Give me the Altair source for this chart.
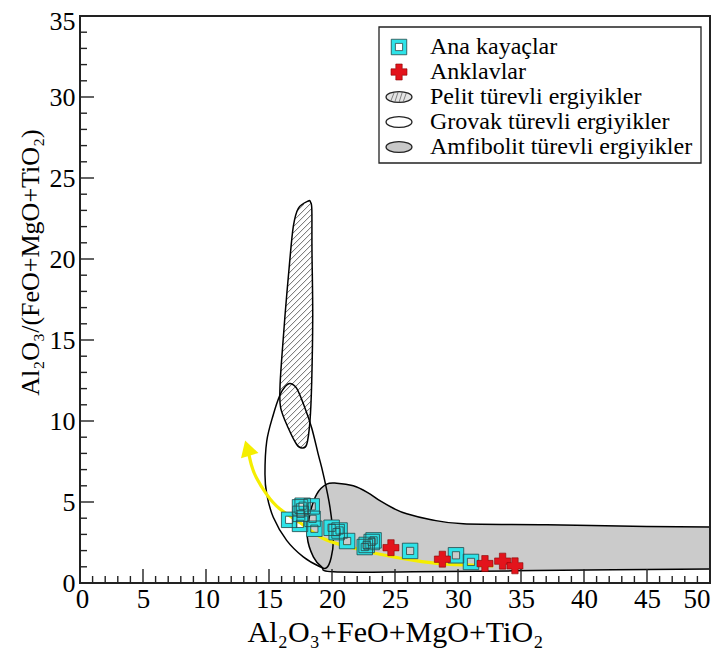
import altair as alt
import pandas as pd

# ---------------- data ----------------
ana_x = [16.6, 17.46, 17.67, 18.39, 17.51, 17.46, 18.46, 18.6, 19.97, 20.37, 20.6, 21.2,
         22.6, 22.75, 23.15, 23.3, 26.2, 29.84, 31.03]
ana_y = [3.90, 4.67, 4.77, 4.73, 4.27, 3.65, 3.96, 3.35, 3.41, 3.14, 3.24, 2.59,
         2.22, 2.35, 2.53, 2.63, 1.98, 1.71, 1.30]

ank_x = [24.68, 28.76, 32.14, 33.54, 34.52]
ank_y = [2.18, 1.47, 1.20, 1.35, 1.06]

pelit_x = [18.12, 17.33, 16.93, 16.61, 16.27, 16.01, 15.87, 15.93, 16.53, 17.20, 17.60,
           17.99, 18.25, 18.39, 18.47, 18.41, 18.40, 18.30]
pelit_y = [23.58, 23.13, 22.01, 19.57, 16.51, 13.86, 12.02, 10.80, 9.57, 8.55, 8.34,
           8.55, 9.98, 12.42, 16.51, 20.58, 23.03, 23.50]

grovak_x = [16.67, 17.20, 17.86, 18.39, 18.91, 19.31, 19.84, 20.10, 19.92, 19.58, 19.05,
            17.72, 16.40, 15.34, 14.82, 14.68, 14.82, 15.34, 15.87, 16.27]
grovak_y = [12.32, 12.01, 10.79, 9.57, 7.94, 6.71, 4.67, 2.63, 1.53, 0.95, 1.00,
            1.61, 2.63, 4.06, 5.49, 6.71, 8.75, 10.39, 11.61, 12.12]

amph_x = [18.04, 18.25, 18.79, 19.58, 20.37, 21.69, 22.8, 23.8, 24.9, 25.93, 27.78, 30.42,
          37.04, 44.98, 50.0, 51.5, 51.5, 50.0, 42.3, 34.4, 26.45, 20.1, 19.18, 18.52]
amph_y = [2.83, 4.27, 5.49, 6.10, 6.16, 6.0, 5.6, 5.08, 4.6, 4.27, 3.92, 3.65,
          3.59, 3.49, 3.45, 3.44, 0.87, 0.86, 0.82, 0.75, 0.69, 0.69, 1.00, 1.61]

trend_x = [13.3, 13.6, 14.0, 14.8, 15.87, 17.5, 19.3, 21.5, 23.5, 26.4, 29.1, 32.8]
trend_y = [8.3, 7.3, 6.5, 5.49, 4.57, 3.7, 2.75, 2.2, 1.82, 1.41, 1.16, 1.06]
arrow_x = [13.3]
arrow_y = [8.3]

x_major = [0, 5, 10, 15, 20, 25, 30, 35, 40, 45, 50]
y_major = [0, 5, 10, 15, 20, 25, 30, 35]
x_minor = [v for v in range(0, 51) if v % 5]
y_minor = [v for v in range(0, 36) if v % 5]

legend_labels = ["Ana kayaçlar", "Anklavlar", "Pelit türevli ergiyikler",
                 "Grovak türevli ergiyikler", "Amfibolit türevli ergiyikler"]

x_title = "Al₂O₃+FeO+MgO+TiO₂"
y_title = "Al₂O₃/(FeO+MgO+TiO₂)"

# ---------------- layout ----------------
PAD_T = 8
W, H = 630, 567
FONT = "Liberation Serif"
SX = W / 50.0
SY = H / 35.0

xs = alt.Scale(domain=[0, 50], nice=False, zero=False)
ys = alt.Scale(domain=[0, 35], nice=False, zero=False)

AX = alt.Axis(
    values=x_major, format="d", ticks=False, domain=False, grid=False,
    labelFont=FONT, labelFontSize=27, labelColor="black", labelPadding=3,
    labelFlush=False, labelOverlap=False,
    labelAlign={"condition": {"test": "datum.value == 50", "value": "right"}, "value": "center"},
    labelOffset={"condition": {"test": "datum.value == 0", "value": 2}, "value": 0},
    title=x_title, titleFont=FONT, titleFontSize=30, titleFontWeight="normal",
    titleColor="black", titlePadding=5)
AY = alt.Axis(
    values=y_major, format="d", ticks=False, domain=False, grid=False,
    labelFont=FONT, labelFontSize=26, labelColor="black", labelPadding=5,
    labelFlush=False, labelOverlap=False,
    labelOffset={"condition": {"test": "datum.value == 35", "value": 5}, "value": 0},
    title=y_title, titleFont=FONT, titleFontSize=26, titleFontWeight="normal",
    titleColor="black", titleX=-37, titleY=246)


def poly_df(xv, yv):
    return pd.DataFrame({"x": xv, "y": yv, "i": list(range(len(xv)))})


def hatch(xv, yv, step=6.0):
    P = [(a * SX, b * SY) for a, b in zip(xv, yv)]
    n = len(P)
    cs = [b - a for a, b in P]
    segs = []
    c = min(cs) + step / 2
    while c < max(cs):
        pts = []
        for k in range(n):
            (x1, y1), (x2, y2) = P[k], P[(k + 1) % n]
            f1 = y1 - x1 - c
            f2 = y2 - x2 - c
            if (f1 < 0) != (f2 < 0):
                t = f1 / (f1 - f2)
                pts.append(x1 + t * (x2 - x1))
        pts.sort()
        for a, b in zip(pts[0::2], pts[1::2]):
            segs.append({"x": a / SX, "y": (a + c) / SY, "x2": b / SX, "y2": (b + c) / SY})
        c += step
    return pd.DataFrame(segs)


def X(f="x"):
    return alt.X(f"{f}:Q", scale=xs, axis=AX)


def Y(f="y"):
    return alt.Y(f"{f}:Q", scale=ys, axis=AY)


amph = alt.Chart(poly_df(amph_x, amph_y)).mark_line(
    interpolate="cardinal-closed", fill="#cbcbcb", stroke="black", strokeWidth=1.5, clip=True
).encode(x=X(), y=Y(), order="i:Q")

pel_hatch = alt.Chart(hatch(pelit_x, pelit_y)).mark_rule(color="#444444", strokeWidth=0.8).encode(
    x=X(), y=Y(), x2="x2:Q", y2="y2:Q")

pelit = alt.Chart(poly_df(pelit_x, pelit_y)).mark_line(
    interpolate="cardinal-closed", fill="transparent", stroke="black", strokeWidth=1.5
).encode(x=X(), y=Y(), order="i:Q")

grovak = alt.Chart(poly_df(grovak_x, grovak_y)).mark_line(
    interpolate="cardinal-closed", fill="transparent", stroke="black", strokeWidth=1.5
).encode(x=X(), y=Y(), order="i:Q")

YEL = "#f5ee00"
trend = alt.Chart(poly_df(trend_x, trend_y)).mark_line(
    interpolate="natural", color=YEL, strokeWidth=3.2
).encode(x=X(), y=Y(), order="i:Q")

arrow = alt.Chart(pd.DataFrame({"x": arrow_x, "y": arrow_y})).mark_point(
    shape="triangle-up", size=220, filled=True, fill=YEL, stroke=YEL, opacity=1, angle=343
).encode(x=X(), y=Y())

ana_df = pd.DataFrame({"x": ana_x, "y": ana_y})
CYAN = "#2ee3e8"
EDGE = "#2a4848"
ana_ring = alt.Chart(ana_df).mark_point(
    shape="square", size=132, filled=False, stroke=CYAN, strokeWidth=4.2, opacity=1
).encode(x=X(), y=Y())
ana_out = alt.Chart(ana_df).mark_point(
    shape="square", size=240, filled=False, stroke=EDGE, strokeWidth=0.8, opacity=1
).encode(x=X(), y=Y())
ana_in = alt.Chart(ana_df).mark_point(
    shape="square", size=52, filled=False, stroke=EDGE, strokeWidth=0.8, opacity=1
).encode(x=X(), y=Y())

RED = "#e3141c"
ank = alt.Chart(pd.DataFrame({"x": ank_x, "y": ank_y})).mark_point(
    shape="cross", size=256, filled=True, fill=RED, stroke="#8a0000", strokeWidth=0.6, opacity=1
).encode(x=X(), y=Y())


# ticks inside the frame
def xticks(vals, length):
    return alt.Chart(pd.DataFrame({"x": vals})).mark_rule(color="#222222", strokeWidth=1.4).encode(
        x=X(), y=alt.value(H), y2=alt.value(H - length))


def yticks(vals, length):
    return alt.Chart(pd.DataFrame({"y": vals})).mark_rule(color="#222222", strokeWidth=1.4).encode(
        y=Y(), x=alt.value(0), x2=alt.value(length))


one = pd.DataFrame({"a": [0]})
frame = alt.Chart(one).mark_rect(fill="transparent", stroke="#222222", strokeWidth=2).encode(
    x=alt.value(0), x2=alt.value(W), y=alt.value(0), y2=alt.value(H))

# legend (positions relative to the plot area)
OFF = 8 + PAD_T
LX0, LX1, LY0, LY1 = 299, 621, 27 - OFF, 163 - OFF
SYM_X, TXT_X = 319, 350
rows = [r - OFF for r in (47, 72, 97, 122, 147)]
ELL = "M -1 0 A 1 0.42 0 1 0 1 0 A 1 0.42 0 1 0 -1 0 Z"
HATCH = "M -0.62 0.28 L -0.38 -0.32 M -0.32 0.38 L -0.06 -0.41 M 0 0.42 L 0.26 -0.39 M 0.32 0.37 L 0.56 -0.3"

leg = [alt.Chart(one).mark_rect(fill="white", stroke="#222222", strokeWidth=1.3).encode(
    x=alt.value(LX0), x2=alt.value(LX1), y=alt.value(LY0), y2=alt.value(LY1))]
leg.append(alt.Chart(one).mark_point(shape="square", size=132, filled=False, stroke=CYAN,
                                     strokeWidth=4.2, opacity=1).encode(x=alt.value(SYM_X), y=alt.value(rows[0])))
leg.append(alt.Chart(one).mark_point(shape="square", size=240, filled=False, stroke=EDGE,
                                     strokeWidth=0.8, opacity=1).encode(x=alt.value(SYM_X), y=alt.value(rows[0])))
leg.append(alt.Chart(one).mark_point(shape="square", size=52, filled=False, stroke=EDGE,
                                     strokeWidth=0.8, opacity=1).encode(x=alt.value(SYM_X), y=alt.value(rows[0])))
leg.append(alt.Chart(one).mark_point(shape="cross", size=256, filled=True, fill=RED, stroke="#8a0000",
                                     strokeWidth=0.6, opacity=1).encode(x=alt.value(SYM_X), y=alt.value(rows[1])))
leg.append(alt.Chart(one).mark_point(shape=ELL, size=676, filled=True, fill="#e4e4e4", stroke="#222222",
                                     strokeWidth=1.2, opacity=1).encode(x=alt.value(SYM_X), y=alt.value(rows[2])))
leg.append(alt.Chart(one).mark_point(shape=HATCH, size=676, filled=False, stroke="#555555",
                                     strokeWidth=0.7, opacity=1).encode(x=alt.value(SYM_X), y=alt.value(rows[2])))
leg.append(alt.Chart(one).mark_point(shape=ELL, size=676, filled=True, fill="white", stroke="#222222",
                                     strokeWidth=1.2, opacity=1).encode(x=alt.value(SYM_X), y=alt.value(rows[3])))
leg.append(alt.Chart(one).mark_point(shape=ELL, size=676, filled=True, fill="#c8c8c8", stroke="#222222",
                                     strokeWidth=1.2, opacity=1).encode(x=alt.value(SYM_X), y=alt.value(rows[4])))
for lab, ry in zip(legend_labels, rows):
    leg.append(alt.Chart(pd.DataFrame({"t": [lab]})).mark_text(
        font=FONT, fontSize=24, color="black", align="left", baseline="middle"
    ).encode(x=alt.value(TXT_X), y=alt.value(ry), text="t:N"))

chart = alt.layer(
    amph, pel_hatch, pelit, grovak, trend, arrow, ana_ring, ana_out, ana_in, ank,
    xticks(x_major, 14), xticks(x_minor, 7), yticks(y_major, 14), yticks(y_minor, 7),
    frame, *leg
).properties(
    width=W, height=H,
    autosize=alt.AutoSizeParams(type="none"),
    padding={"left": 72, "top": PAD_T, "right": 7, "bottom": 66},
    background="white",
).configure_view(strokeOpacity=0)

chart.save("out.html", embed_options={"renderer": "svg", "actions": False})
